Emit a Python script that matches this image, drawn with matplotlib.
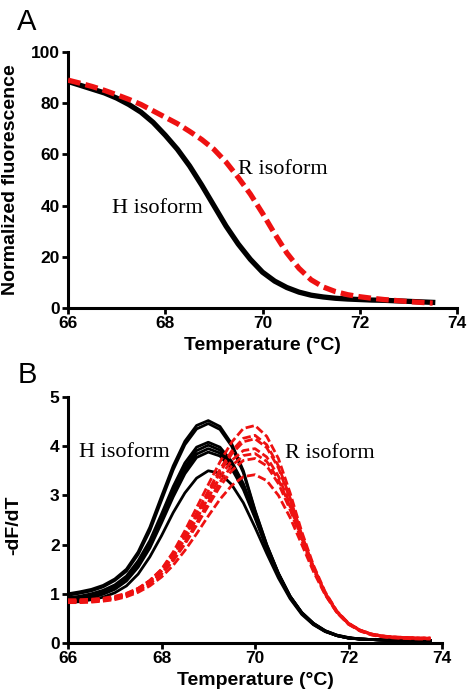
import matplotlib
matplotlib.use('Agg')
import matplotlib.pyplot as plt
import numpy as np

# ---- panel A: normalized melting curves ----
temp_a = np.arange(66.0, 73.51, 0.25)
fluor_h = [88.5, 87.0, 85.5, 84.0, 82.0, 79.5, 76.5, 72.5, 67.5, 62.0, 55.5, 48.0,
           40.0, 32.0, 25.0, 19.0, 14.0, 10.5, 8.0, 6.2, 5.0, 4.3, 3.8, 3.5,
           3.3, 3.1, 3.0, 2.8, 2.6, 2.4, 2.2]
fluor_r = [89.0, 87.8, 86.5, 85.0, 83.3, 81.5, 79.5, 77.0, 74.5, 72.0, 69.0, 65.8,
           62.0, 57.0, 51.0, 44.5, 37.0, 29.0, 21.5, 15.5, 11.0, 8.2, 6.4, 5.2,
           4.4, 3.8, 3.3, 2.9, 2.5, 2.2, 1.9]

# ---- panel B: derivative curves (one row per replicate) ----
temp_b = np.arange(66.0, 73.76, 0.25)
deriv_h = [
    [1.00, 1.04, 1.09, 1.17, 1.30, 1.50, 1.85, 2.35, 2.98, 3.60, 4.10, 4.42, 4.52, 4.40, 4.05, 3.50,
     2.70, 2.00, 1.42, 0.95, 0.62, 0.40, 0.25, 0.16, 0.11, 0.08, 0.07, 0.06, 0.06, 0.05, 0.05, 0.05],
    [0.97, 1.01, 1.06, 1.14, 1.27, 1.46, 1.80, 2.28, 2.90, 3.52, 4.03, 4.35, 4.46, 4.34, 4.00, 3.46,
     2.68, 1.99, 1.41, 0.95, 0.62, 0.40, 0.25, 0.16, 0.11, 0.08, 0.07, 0.06, 0.06, 0.05, 0.05, 0.05],
    [0.92, 0.95, 1.00, 1.07, 1.18, 1.36, 1.67, 2.08, 2.62, 3.18, 3.66, 3.98, 4.08, 3.98, 3.69, 3.24,
     2.62, 1.97, 1.41, 0.95, 0.61, 0.39, 0.24, 0.15, 0.10, 0.08, 0.07, 0.06, 0.06, 0.05, 0.05, 0.05],
    [0.90, 0.93, 0.98, 1.05, 1.15, 1.32, 1.62, 2.02, 2.55, 3.10, 3.58, 3.91, 4.02, 3.92, 3.64, 3.20,
     2.60, 1.96, 1.40, 0.94, 0.61, 0.39, 0.24, 0.15, 0.10, 0.08, 0.07, 0.06, 0.06, 0.05, 0.05, 0.05],
    [0.86, 0.89, 0.94, 1.01, 1.11, 1.28, 1.57, 1.97, 2.49, 3.03, 3.51, 3.84, 3.95, 3.86, 3.59, 3.16,
     2.57, 1.94, 1.39, 0.93, 0.60, 0.38, 0.24, 0.15, 0.10, 0.08, 0.07, 0.06, 0.05, 0.05, 0.05, 0.05],
    [0.84, 0.87, 0.92, 0.99, 1.09, 1.26, 1.54, 1.93, 2.44, 2.97, 3.44, 3.77, 3.88, 3.80, 3.54, 3.12,
     2.54, 1.92, 1.38, 0.92, 0.60, 0.38, 0.24, 0.15, 0.10, 0.08, 0.07, 0.06, 0.05, 0.05, 0.05, 0.05],
    [0.82, 0.84, 0.88, 0.93, 1.02, 1.16, 1.40, 1.75, 2.18, 2.65, 3.05, 3.35, 3.50, 3.45, 3.22, 2.85,
     2.35, 1.82, 1.32, 0.90, 0.58, 0.37, 0.23, 0.15, 0.10, 0.08, 0.07, 0.06, 0.05, 0.05, 0.05, 0.05],
]
deriv_r = [
    [0.85, 0.85, 0.86, 0.88, 0.92, 0.99, 1.10, 1.27, 1.50, 1.85, 2.28, 2.75, 3.22, 3.68, 4.08, 4.36,
     4.42, 4.20, 3.75, 3.05, 2.26, 1.58, 1.04, 0.65, 0.40, 0.26, 0.18, 0.14, 0.12, 0.11, 0.10, 0.10],
    [0.86, 0.86, 0.87, 0.89, 0.93, 1.00, 1.11, 1.27, 1.49, 1.81, 2.20, 2.64, 3.09, 3.53, 3.90, 4.16,
     4.22, 4.03, 3.60, 2.95, 2.20, 1.55, 1.02, 0.64, 0.40, 0.26, 0.18, 0.14, 0.12, 0.11, 0.10, 0.10],
    [0.84, 0.84, 0.85, 0.87, 0.91, 0.98, 1.09, 1.24, 1.46, 1.77, 2.16, 2.60, 3.04, 3.47, 3.84, 4.09,
     4.15, 3.97, 3.56, 2.92, 2.18, 1.54, 1.02, 0.64, 0.40, 0.26, 0.18, 0.14, 0.12, 0.11, 0.10, 0.10],
    [0.88, 0.88, 0.89, 0.91, 0.95, 1.01, 1.11, 1.26, 1.46, 1.75, 2.11, 2.52, 2.95, 3.37, 3.71, 3.91,
     3.95, 3.78, 3.39, 2.82, 2.15, 1.53, 1.01, 0.63, 0.39, 0.25, 0.17, 0.13, 0.11, 0.10, 0.10, 0.09],
    [0.83, 0.83, 0.84, 0.86, 0.90, 0.96, 1.06, 1.21, 1.41, 1.69, 2.04, 2.44, 2.86, 3.27, 3.60, 3.81,
     3.85, 3.69, 3.32, 2.77, 2.12, 1.51, 1.00, 0.63, 0.39, 0.25, 0.17, 0.13, 0.11, 0.10, 0.09, 0.09],
    [0.86, 0.86, 0.87, 0.89, 0.92, 0.98, 1.07, 1.21, 1.40, 1.67, 2.01, 2.39, 2.79, 3.18, 3.50, 3.71,
     3.75, 3.60, 3.24, 2.71, 2.08, 1.49, 0.99, 0.62, 0.38, 0.25, 0.17, 0.13, 0.11, 0.10, 0.09, 0.09],
    [0.82, 0.82, 0.83, 0.85, 0.88, 0.94, 1.03, 1.16, 1.34, 1.58, 1.88, 2.22, 2.58, 2.92, 3.20, 3.38,
     3.42, 3.30, 3.00, 2.55, 2.00, 1.45, 0.98, 0.62, 0.38, 0.24, 0.16, 0.12, 0.10, 0.09, 0.08, 0.08],
]

x_ticks = [66, 68, 70, 72, 74]

sans = 'Liberation Sans'
serif = 'Liberation Serif'
red = '#ee1111'


def style_axes(ax):
    for side in ('top', 'right'):
        ax.spines[side].set_visible(False)
    for side in ('left', 'bottom'):
        ax.spines[side].set_linewidth(2.2)
    ax.tick_params(width=2, length=4, direction='out', pad=2)
    for lab in ax.get_xticklabels() + ax.get_yticklabels():
        lab.set_fontfamily(sans)
        lab.set_fontweight('bold')
        lab.set_fontsize(12.5)


fig = plt.figure(figsize=(4.67, 6.94), dpi=100)

# panel A
ax1 = fig.add_axes([0.1456, 0.5562, 0.833, 0.3689])
ax1.plot(temp_a, fluor_r, color=red, lw=3.8, ls=(0, (2.4, 1.0)), zorder=3)
ax1.plot(temp_a, fluor_h, color='black', lw=3.8, zorder=2)
ax1.set_xlim(66, 74)
ax1.set_ylim(0, 100)
ax1.set_xticks(x_ticks)
ax1.set_yticks([0, 20, 40, 60, 80, 100])
style_axes(ax1)
ax1.set_xlabel('Temperature (°C)', family=sans, weight='bold', fontsize=14, labelpad=4)
ax1.set_ylabel('Normalized fluorescence', family=sans, weight='bold', fontsize=14)
ax1.yaxis.set_label_coords(-0.126, 0.5)
ax1.text(66.9, 37, 'H isoform', family=serif, fontsize=16, va='baseline')
ax1.text(69.5, 52.3, 'R isoform', family=serif, fontsize=16, va='baseline')

# panel B
ax2 = fig.add_axes([0.1456, 0.0735, 0.801, 0.3545])
for row in deriv_h:
    ax2.plot(temp_b, row, color='black', lw=2.0, zorder=2)
for row in deriv_r:
    ax2.plot(temp_b, row, color=red, lw=2.0, ls=(0, (3.0, 1.2)), zorder=3)
ax2.set_xlim(66, 74)
ax2.set_ylim(0, 5)
ax2.set_xticks(x_ticks)
ax2.set_yticks([0, 1, 2, 3, 4, 5])
style_axes(ax2)
ax2.set_xlabel('Temperature (°C)', family=sans, weight='bold', fontsize=14, labelpad=4)
ax2.set_ylabel('-dF/dT', family=sans, weight='bold', fontsize=14)
ax2.yaxis.set_label_coords(-0.123, 0.48)
ax2.text(66.24, 3.78, 'H isoform', family=serif, fontsize=16, va='baseline')
ax2.text(70.64, 3.76, 'R isoform', family=serif, fontsize=16, va='baseline')

fig.text(0.058, 0.968, 'A', family=sans, fontsize=21, ha='center', va='center')
fig.text(0.058, 0.459, 'B', family=sans, fontsize=21, ha='center', va='center')

fig.savefig('out.png', dpi=100)
